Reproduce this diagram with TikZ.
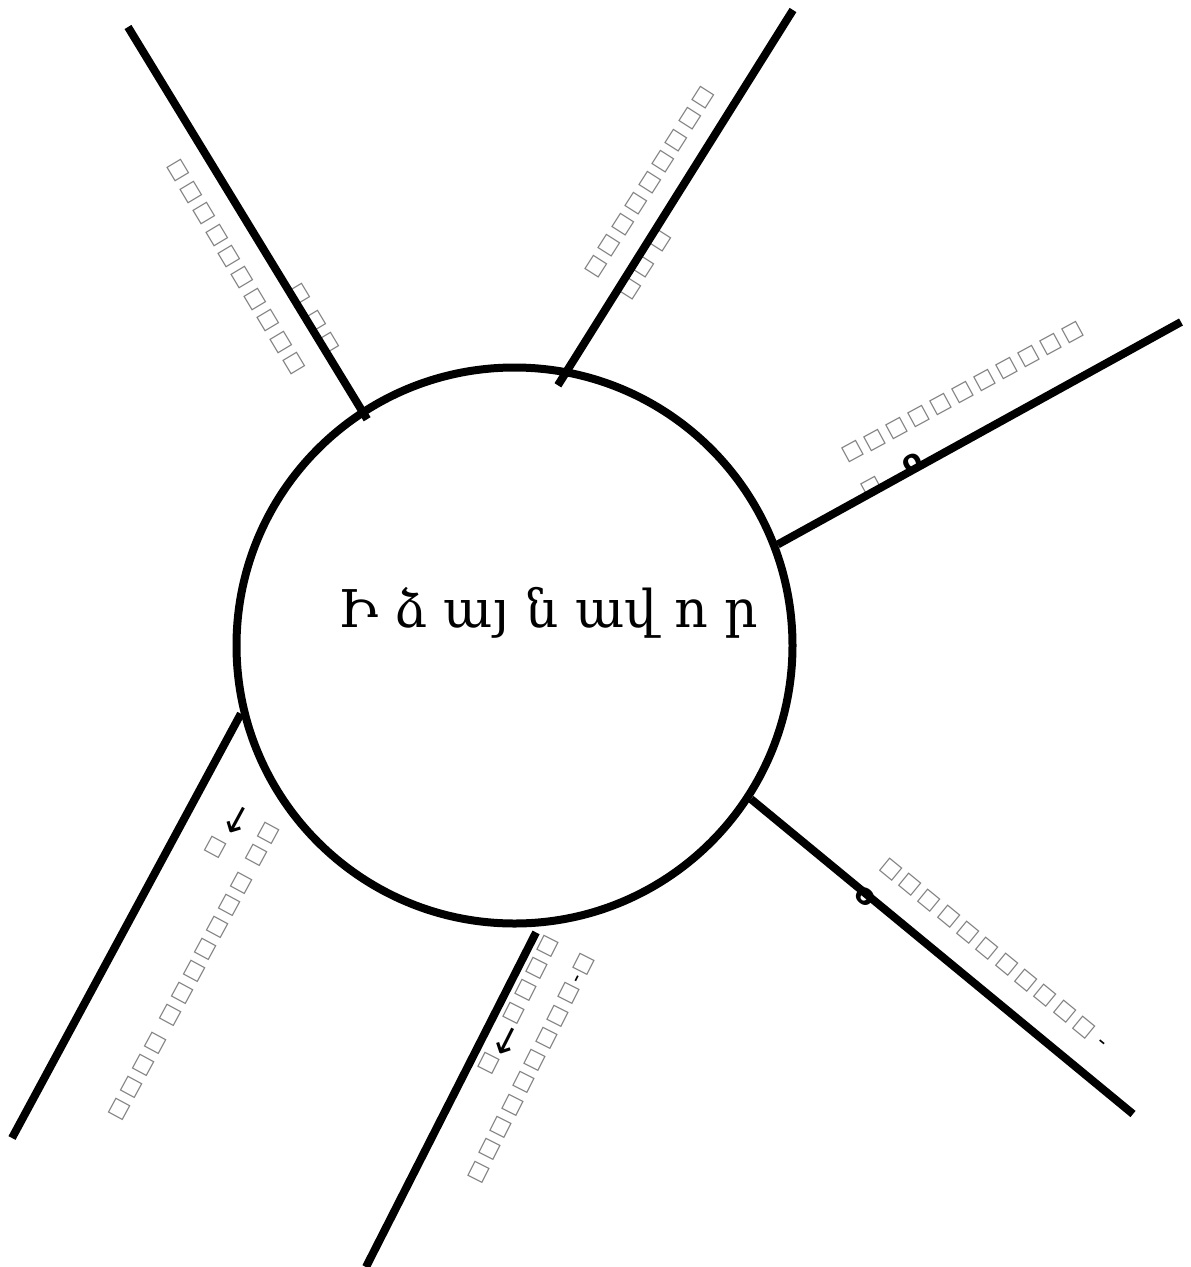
\documentclass[tikz,border=0pt]{standalone}
\usepackage{fontspec}
\setmainfont{DejaVu Serif}
\newfontfamily\tofufont{DejaVu Sans}
\usetikzlibrary{calc}

% one missing-glyph box and the wide arrow of the edge labels
\newcommand{\tf}{\makebox[25pt]{\color{gray}□}}
\newcommand{\tfarrow}{\makebox[31pt]{\fontsize{38}{38}\selectfont →}}
\newcommand{\tfo}{{\bfseries\fontsize{29}{29}\selectfont o}}

\begin{document}
\begin{tikzpicture}[x=1pt, y=-1pt,
  spoke/.style={line width=8pt},
  lbl/.style={anchor=west, inner sep=0pt, align=left,
    font={\tofufont\fontsize{22}{40}\selectfont}}]
\useasboundingbox (0,0) rectangle (1191,1267);

% labels first, the spokes run over them
\node[lbl, rotate=120.9] (labA) at (317.6,364.4)
  {\tf\tf\tf\tf\tf\tf\tf\tf\tf\tf\\ \tf\tf{} \tf};
\node[lbl, rotate=57.5] (labB) at (606.2,288.2)
  {\tf\tf\tf\tf\tf\tf\tf\tf\tf\\ \tf\tf{} \tf};
\node[lbl, rotate=28.5] (labC) at (851.5,475.6)
  {\tf\tf\tf\tf\tf\tf\tf\tf\tf\tf\tf\\ \tf\hspace{25pt}\tfo};
\node[lbl, rotate=-39.35] (labD) at (869,875.8)
  {\tf\tf\tf\tf\tf\tf\tf\tf\tf\tf\tf{} -\\ \tfo};
\node[lbl, rotate=-116.8] (labE) at (571.7,943.8)
  {\tf-\tf\tf\tf\tf\tf\tf\tf\tf\tf\\ \tf\tf\tf\tf\tfarrow\tf};
\node[lbl, rotate=-118.4] (labF) at (257.3,812.5)
  {\tf\tf{} \tf\tf\tf\tf\tf\tf\tf{} \tf\tf\tf\tf\\ \tfarrow{} \tf};

\node[circle, draw, line width=8pt, minimum size=556pt, inner sep=0pt]
  (hub) at (514.5,645.5) {};
\node[anchor=base, font=\fontsize{52}{60}\selectfont] (title) at (548,627)
  {Ի ձ այ  ն ավ ո ր};

\coordinate (endA) at (128,27);
\coordinate (endB) at (793,10);
\coordinate (endC) at (1181,322);
\coordinate (endD) at (1133,1114);
\coordinate (endE) at (366,1267);
\coordinate (endF) at (12,1138);

\draw[spoke, shorten <=-12pt] (hub.123.8) -- (endA);
\draw[spoke, shorten <=-19.6pt] (hub.79.8) -- (endB);
\draw[spoke] (hub.21.7) -- (endC);
\draw[spoke] (hub.-33.3) -- (endD);
\draw[spoke, shorten <=6.7pt] (hub.-85.2) -- (endE);
\draw[spoke] (hub.194.1) -- (endF);
\end{tikzpicture}
\end{document}
